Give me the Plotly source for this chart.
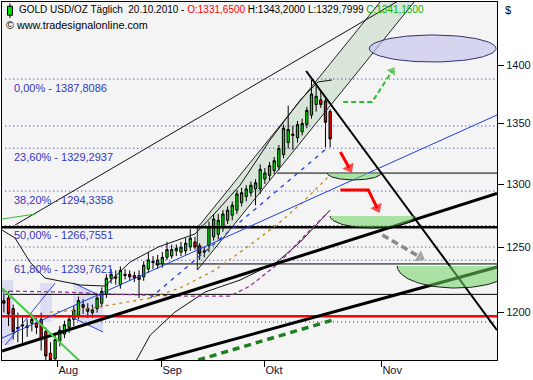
import math
import numpy as np
import plotly.graph_objects as go

# ---------------- data ----------------
bars = list(range(71))  # trading days, 14.07.2010 ... 20.10.2010
opens = [1209,1211,1203,1189,1191,1189,1192,1192,1195,1186,1170,1166,1179,1184,1189,1195,1198,1206,1203,1200,
         1203,1207,1214,1226,1227,1221,1229,1229,1228,1228,1227,1233,1239,1236,1237,1242,1243,1247,1246,1247,
         1250,1254,1251,1246,1251,1258,1260,1266,1271,1275,1279,1285,1290,1293,1296,1296,1304,1307,1311,1314,
         1324,1334,1341,1338,1343,1349,1357,1366,1370,1369,1360]
highs = [1215,1216,1206,1200,1198,1195,1199,1196,1200,1189,1178,1183,1190,1194,1198,1205,1212,1210,1207,1206,
         1214,1219,1229,1233,1232,1235,1233,1232,1231,1232,1239,1246,1243,1244,1246,1254,1252,1252,1254,1257,
         1264,1258,1253,1250,1270,1276,1276,1279,1282,1286,1295,1297,1299,1302,1304,1316,1313,1318,1322,1332,
         1349,1365,1348,1352,1354,1364,1387,1382,1378,1372,1362]
lows = [1200,1190,1180,1178,1177,1182,1186,1184,1172,1157,1158,1162,1175,1181,1185,1190,1195,1199,1196,1196,
        1200,1204,1211,1222,1221,1218,1225,1224,1223,1211,1224,1230,1233,1233,1234,1240,1241,1243,1243,1244,
        1247,1248,1240,1242,1246,1255,1256,1262,1268,1271,1276,1282,1286,1290,1283,1292,1300,1303,1308,1311,
        1321,1329,1328,1334,1340,1346,1354,1360,1363,1330,1330]
closes = [1207,1199,1186,1188,1190,1190,1195,1189,1180,1168,1165,1180,1187,1191,1195,1202,1209,1204,1201,1202,
          1211,1216,1226,1229,1226,1232,1228,1227,1226,1225,1236,1240,1238,1240,1242,1248,1248,1249,1250,1253,
          1257,1250,1245,1247,1266,1272,1271,1276,1279,1283,1292,1293,1296,1299,1301,1312,1309,1315,1319,1329,
          1346,1345,1340,1349,1350,1361,1375,1373,1366,1351,1337]

month_labels = ["Aug", "Sep", "Okt", "Nov"]
month_pos = [11.5, 33.8, 55.9, 81.0]
price_ticks = [1200, 1250, 1300, 1350, 1400]
x_range = [-0.4, 105.8]
price_range = [1165.1, 1456.0]

fib_levels = [1387.8086, 1329.2937, 1294.3358, 1266.7551, 1239.7621]
fib_text = ["0,00% - 1387,8086", "23,60% - 1329,2937", "38,20% - 1294,3358",
            "50,00% - 1266,7551", "61,80% - 1239,7621"]
other_dotted = [1347.8, 1250.0]
low_dotted = (15.7, 1193.0)

thick_level = 1265.4
thin_levels = [(58.6, 1308.9), (32.4, 1236.9), (0.3, 1213.7)]
red_level = 1197.3

# drawings: (bar, price)
thin_up_bars, thin_up_prices = [2.4, 88.6], [1267.2, 1466.9]
chan_bars, chan_prices = [41.5, 82.8, 90.1, 41.5], [1264.9, 1466.9, 1466.9, 1232.2]
down_bars, down_prices = [64.85, 105.8], [1394.8, 1187.0]
upa_bars, upa_prices = [-0.4, 105.8], [1171.6, 1292.5]
upb_bars, upb_prices = [31.4, 105.8], [1163.5, 1234.5]
gdash_bars, gdash_prices = [41.7, 70.6], [1165.1, 1194.5]
gdown_bars, gdown_prices = [-0.4, 17.4], [1218.5, 1160.8]
gtop_bars, gtop_prices = [-0.4, 6.9], [1272.0, 1276.0]
blue_bars, blue_prices = [-0.4, 105.8], [1181.1, 1357.1]
bdash_bars, bdash_prices = [31.4, 69.4], [1210.9, 1329.5]
orange_bars = [9.9, 16.4, 22.8, 31.4, 37.8, 45.3, 52.8, 59.3, 63.9, 70.0]
orange_prices = [1200.4, 1201.9, 1205.7, 1210.9, 1218.5, 1232.2, 1251.5, 1269.6, 1284.7, 1307.3]
purple_bars = [-0.4, 12.1, 24.9, 37.8, 48.5, 52.8, 59.3, 63.6, 66.8, 69.4]
purple_prices = [1216.2, 1215.5, 1213.7, 1212.4, 1212.4, 1220.0, 1238.4, 1255.5, 1267.2, 1276.7]
upper_bars = [-0.4, 2.4, 5.6, 8.8, 16.4, 21.7, 27.1, 33.1, 41.0, 45.3, 50.7, 57.1, 63.6, 67.4, 70.4]
upper_prices = [1263.3, 1257.0, 1238.4, 1226.1, 1220.8, 1220.0, 1238.4, 1250.0, 1260.2, 1276.7,
                1299.2, 1336.1, 1369.8, 1385.3, 1387.0]
lower_bars = [28.2, 31.4, 36.7, 43.2, 50.7, 58.6, 63.6, 67.9, 70.0]
lower_prices = [1163.6, 1183.3, 1200.4, 1215.5, 1224.6, 1238.4, 1253.9, 1271.2, 1279.1]

lavA = ([-0.4, 2.0, 2.0, -0.4], [1176.0, 1176.0, 1224.6, 1224.6])
lavB = ([7.8, 10.3, 10.3, 7.8], [1193.0, 1193.0, 1222.3, 1222.3])
lavC = ([14.9, 21.3, 21.3, 14.9], [1222.3, 1211.7, 1185.6, 1195.9])
flag_bars, flag_prices = [0.3, 11.0], [1176.0, 1222.3]

top_ellipse = ((78.4, 105.6), (1402.6, 1426.4))
half_ellipses = [((69.4, 80.9), (1308.9, 1303.3)),
                 ((70.0, 88.2), (1274.4, 1264.9)),
                 ((84.4, 109.5), (1235.3, 1218.5))]

arrow_green = ([72.8, 79.0, 83.3], [1368.1, 1368.1, 1394.8])
arrow_red1 = ([72.2, 74.1], [1326.2, 1313.0])
arrow_red2 = ([72.2, 78.2, 80.1], [1295.2, 1295.2, 1280.7])
arrow_gray = ([81.2, 89.3], [1259.4, 1242.2])

# ---------------- figure ----------------
fig = go.Figure()
x_lo, x_hi = x_range
FONT = "Liberation Sans"


def line(xs, ys, color, width=1, dash=None, fill=None, fillcolor=None):
    fig.add_trace(go.Scatter(x=xs, y=ys, mode="lines", fill=fill, fillcolor=fillcolor,
                             line=dict(color=color, width=width, dash=dash),
                             hoverinfo="skip", showlegend=False))


def poly_path(xs, ys):
    return "M " + " L ".join(f"{x},{y}" for x, y in zip(xs, ys)) + " Z"


def ellipse_pts(nb, pr, half=False):
    cx, rx = (nb[0] + nb[1]) / 2, (nb[1] - nb[0]) / 2
    if half:
        lc = math.log10(pr[0]); rl = math.log10(pr[0]) - math.log10(pr[1])
        t = np.linspace(0, math.pi, 60)
        xs = cx + rx * np.cos(t)
        ys = 10 ** (lc - rl * np.sin(t))
    else:
        lc = (math.log10(pr[0]) + math.log10(pr[1])) / 2
        rl = abs(math.log10(pr[1]) - math.log10(pr[0])) / 2
        t = np.linspace(0, 2 * math.pi, 90)
        xs = cx + rx * np.cos(t)
        ys = 10 ** (lc + rl * np.sin(t))
    return list(xs), list(ys)


# filled areas below the candles (layout shapes, layer below)
shapes = []
for xs, ys in (lavA, lavB, lavC):
    shapes.append(dict(type="path", xref="x", yref="y", layer="below", path=poly_path(xs, ys),
                       fillcolor="#DCDCF2", line=dict(width=0)))
shapes.append(dict(type="path", xref="x", yref="y", layer="below", path=poly_path(chan_bars, chan_prices),
                   fillcolor="#D8E5D8", line=dict(width=0)))

line(lavC[0][:2], lavC[1][:2], "#3344DD", 1)
line(lavC[0][2:], lavC[1][2:], "#3344DD", 1)
line(flag_bars, flag_prices, "#3344DD", 1)

# channel edges
line(chan_bars[:2], chan_prices[:2], "#222222", 1)
line([chan_bars[3], chan_bars[2]], [chan_prices[3], chan_prices[2]], "#222222", 1)
line([chan_bars[0], chan_bars[3]], [chan_prices[0], chan_prices[3]], "#222222", 1)

# fib dotted levels
for lv in fib_levels + other_dotted:
    line([0.3, x_hi], [lv, lv], "#2222DD", 1, dash="1px,3px")
line([low_dotted[0], x_hi], [low_dotted[1], low_dotted[1]], "#2222DD", 1, dash="1px,3px")

# horizontal lines
for start, lv in thin_levels:
    line([start, x_hi], [lv, lv], "#000000", 1)
line([x_lo, x_hi], [thick_level, thick_level], "#000000", 2.5)
line([x_lo, x_hi], [red_level, red_level], "#FF0000", 2.5)

# indicator curves
line(upper_bars, upper_prices, "#111111", 1)
line(lower_bars, lower_prices, "#111111", 1)
line(purple_bars, purple_prices, "#993399", 1.3, dash="4px,3px")
line(orange_bars, orange_prices, "#C08A1A", 1.3, dash="3px,4px")
line(blue_bars, blue_prices, "#1F3FE0", 1)
line(bdash_bars, bdash_prices, "#1F3FE0", 1.3, dash="4px,5px")
line(thin_up_bars, thin_up_prices, "#111111", 1)
line(gtop_bars, gtop_prices, "#33BB33", 1)

# top ellipse
ex, ey = ellipse_pts(*top_ellipse)
line(ex, ey, "#303070", 1, fill="toself", fillcolor="rgba(196,196,238,0.65)")

# candles
fig.add_trace(go.Candlestick(
    x=bars, open=opens, high=highs, low=lows, close=closes,
    increasing=dict(fillcolor="#00DD00", line=dict(color="#000000", width=1)),
    decreasing=dict(fillcolor="#FF0000", line=dict(color="#000000", width=1)),
    whiskerwidth=0, hoverinfo="skip", showlegend=False))

# trend lines
line(down_bars, down_prices, "#000000", 2)
line(upa_bars, upa_prices, "#000000", 3)
line(upb_bars, upb_prices, "#000000", 3)
line(gdash_bars, gdash_prices, "#1E7F1E", 3.5, dash="7px,5px")
line(gdown_bars, gdown_prices, "#44CC44", 2)

# green half ellipses
for nb, pr in half_ellipses:
    hx, hy = ellipse_pts(nb, pr, half=True)
    line(hx + [hx[0]], hy + [hy[0]], "rgba(0,0,0,0)", 0, fill="toself",
         fillcolor="rgba(108,211,97,0.55)")
    line(hx, hy, "#1A1A1A", 1)


# arrows
def arrow(pts, color, width, dash, size):
    xs, ys = pts
    fig.add_trace(go.Scatter(
        x=xs, y=ys, mode="lines+markers", hoverinfo="skip", showlegend=False,
        line=dict(color=color, width=width, dash=dash),
        marker=dict(symbol="triangle-up", angleref="previous", color=color,
                    size=[0] * (len(xs) - 1) + [size], line=dict(width=0))))


arrow(arrow_green, "#33BB33", 2, "5px,3px", 9)
arrow(arrow_red1, "#FF0000", 3, None, 11)
arrow(arrow_red2, "#FF0000", 3, None, 11)
arrow(arrow_gray, "#888888", 3.5, "7px,4px", 11)

# fib labels
annotations = []
for lv, txt in zip(fib_levels, fib_text):
    annotations.append(dict(x=1.8, y=math.log10(lv), xref="x", yref="y", text=txt,
                            showarrow=False, xanchor="left", yanchor="middle", yshift=-9,
                            font=dict(family=FONT, size=11, color="#3535C8")))

annotations += [
    dict(x=0.0303, y=0.9777, xref="paper", yref="paper", xanchor="left", yanchor="middle",
         showarrow=False,
         text="GOLD USD/OZ Täglich&nbsp; 20.10.2010 - <span style='color:#FF0000'>O:1331,6500</span> "
              "H:1343,2000 L:1329,7999 <span style='color:#00B400'>C:1341,1500</span>",
         font=dict(family=FONT, size=10, color="#000000")),
    dict(x=0.004, y=0.9358, xref="paper", yref="paper", xanchor="left", yanchor="middle",
         showarrow=False, text="© www.tradesignalonline.com",
         font=dict(family=FONT, size=10.8, color="#000000")),
    dict(x=1.012, y=0.9777, xref="paper", yref="paper", xanchor="left", yanchor="middle",
         showarrow=False, text="$", font=dict(family=FONT, size=11, color="#000000")),
]

shapes += [
    dict(type="line", xref="paper", yref="paper", x0=0.0162, x1=0.0162, y0=0.955, y1=0.996,
         line=dict(color="#000000", width=1)),
    dict(type="rect", xref="paper", yref="paper", x0=0.0111, x1=0.0212, y0=0.963, y1=0.988,
         fillcolor="#00DD00", line=dict(color="#000000", width=1)),
]

fig.update_layout(
    width=533, height=380, autosize=False,
    margin=dict(l=2, r=36, t=2, b=20),
    paper_bgcolor="#FFFFFF", plot_bgcolor="#F4F4F4",
    annotations=annotations, shapes=shapes,
    xaxis=dict(range=x_range, showgrid=False, zeroline=False, rangeslider=dict(visible=False),
               showline=True, mirror=True, linecolor="#000000", linewidth=1,
               ticks="outside", ticklen=6, tickcolor="#000000",
               tickvals=month_pos, ticktext=month_labels, ticklabelposition="outside right",
               tickfont=dict(family=FONT, size=11, color="#101030")),
    yaxis=dict(type="log", range=[math.log10(price_range[0]), math.log10(price_range[1])],
               side="right", showgrid=False, zeroline=False,
               showline=True, mirror=True, linecolor="#000000", linewidth=1,
               ticks="outside", ticklen=6, tickcolor="#000000",
               tickvals=price_ticks, ticktext=[str(v) for v in price_ticks],
               tickfont=dict(family=FONT, size=11, color="#101030")),
)

fig.write_html("out.html")
